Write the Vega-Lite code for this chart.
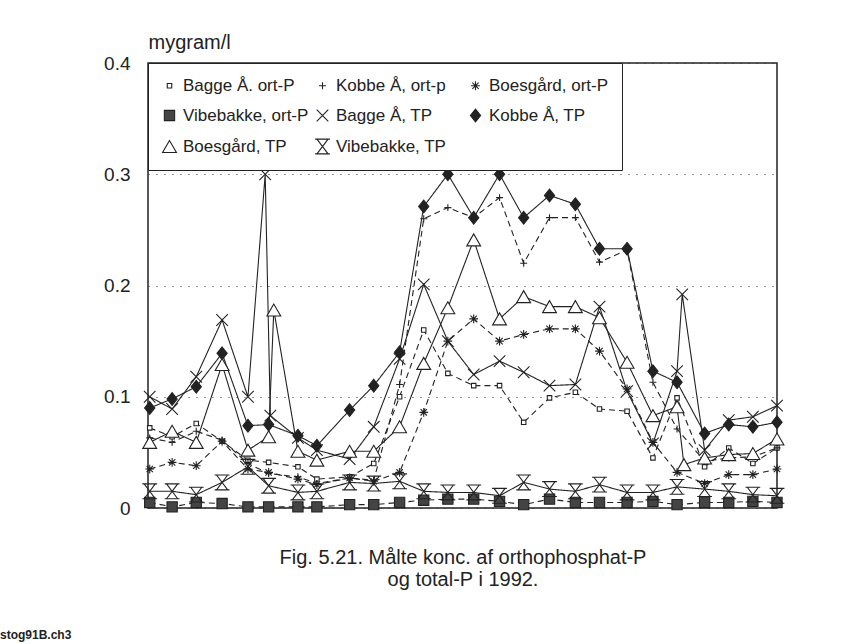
{
"$schema":"https://vega.github.io/schema/vega-lite/v6.json",
"autosize":{"type":"none"},
"width":629,"height":445,
"padding":{"left":148,"top":63,"right":80,"bottom":136},
"background":"white",
"config":{"font":"Liberation Sans","view":{"stroke":"#222","strokeWidth":1.5}},
"title":{"text":"stog91B.ch3","orient":"bottom","anchor":"start","frame":"group","dx":-148,"offset":41,"fontSize":12,"fontWeight":"bold","color":"#222"},
"datasets":{"p":[
{"s":"Bagge Å. ort-P","t":"ort","d":1,"v":0.072},{"s":"Bagge Å. ort-P","t":"ort","d":14,"v":0.064},{"s":"Bagge Å. ort-P","t":"ort","d":28,"v":0.076},{"s":"Bagge Å. ort-P","t":"ort","d":43,"v":0.060},{"s":"Bagge Å. ort-P","t":"ort","d":58,"v":0.043},{"s":"Bagge Å. ort-P","t":"ort","d":70,"v":0.041},{"s":"Bagge Å. ort-P","t":"ort","d":87,"v":0.037},{"s":"Bagge Å. ort-P","t":"ort","d":98,"v":0.026},{"s":"Bagge Å. ort-P","t":"ort","d":117,"v":0.028},{"s":"Bagge Å. ort-P","t":"ort","d":131,"v":0.040},{"s":"Bagge Å. ort-P","t":"ort","d":146,"v":0.100},{"s":"Bagge Å. ort-P","t":"ort","d":160,"v":0.160},{"s":"Bagge Å. ort-P","t":"ort","d":174,"v":0.121},{"s":"Bagge Å. ort-P","t":"ort","d":189,"v":0.110},{"s":"Bagge Å. ort-P","t":"ort","d":204,"v":0.110},{"s":"Bagge Å. ort-P","t":"ort","d":218,"v":0.077},{"s":"Bagge Å. ort-P","t":"ort","d":233,"v":0.099},{"s":"Bagge Å. ort-P","t":"ort","d":248,"v":0.104},{"s":"Bagge Å. ort-P","t":"ort","d":262,"v":0.089},{"s":"Bagge Å. ort-P","t":"ort","d":278,"v":0.087},{"s":"Bagge Å. ort-P","t":"ort","d":293,"v":0.045},{"s":"Bagge Å. ort-P","t":"ort","d":307,"v":0.099},{"s":"Bagge Å. ort-P","t":"ort","d":323,"v":0.037},{"s":"Bagge Å. ort-P","t":"ort","d":337,"v":0.054},{"s":"Bagge Å. ort-P","t":"ort","d":351,"v":0.040},{"s":"Bagge Å. ort-P","t":"ort","d":365,"v":0.054},
{"s":"Kobbe Å, ort-p","t":"ort","d":1,"v":0.063},{"s":"Kobbe Å, ort-p","t":"ort","d":14,"v":0.059},{"s":"Kobbe Å, ort-p","t":"ort","d":28,"v":0.069},{"s":"Kobbe Å, ort-p","t":"ort","d":43,"v":0.061},{"s":"Kobbe Å, ort-p","t":"ort","d":58,"v":0.040},{"s":"Kobbe Å, ort-p","t":"ort","d":70,"v":0.031},{"s":"Kobbe Å, ort-p","t":"ort","d":87,"v":0.028},{"s":"Kobbe Å, ort-p","t":"ort","d":98,"v":0.022},{"s":"Kobbe Å, ort-p","t":"ort","d":117,"v":0.027},{"s":"Kobbe Å, ort-p","t":"ort","d":131,"v":0.025},{"s":"Kobbe Å, ort-p","t":"ort","d":146,"v":0.111},{"s":"Kobbe Å, ort-p","t":"ort","d":160,"v":0.260},{"s":"Kobbe Å, ort-p","t":"ort","d":174,"v":0.270},{"s":"Kobbe Å, ort-p","t":"ort","d":189,"v":0.261},{"s":"Kobbe Å, ort-p","t":"ort","d":204,"v":0.279},{"s":"Kobbe Å, ort-p","t":"ort","d":218,"v":0.220},{"s":"Kobbe Å, ort-p","t":"ort","d":233,"v":0.261},{"s":"Kobbe Å, ort-p","t":"ort","d":248,"v":0.261},{"s":"Kobbe Å, ort-p","t":"ort","d":262,"v":0.221},{"s":"Kobbe Å, ort-p","t":"ort","d":278,"v":0.232},{"s":"Kobbe Å, ort-p","t":"ort","d":293,"v":0.113},{"s":"Kobbe Å, ort-p","t":"ort","d":307,"v":0.071},{"s":"Kobbe Å, ort-p","t":"ort","d":323,"v":0.042},{"s":"Kobbe Å, ort-p","t":"ort","d":337,"v":0.045},{"s":"Kobbe Å, ort-p","t":"ort","d":351,"v":0.046},{"s":"Kobbe Å, ort-p","t":"ort","d":365,"v":0.054},
{"s":"Boesgård, ort-P","t":"ort","d":1,"v":0.035},{"s":"Boesgård, ort-P","t":"ort","d":14,"v":0.041},{"s":"Boesgård, ort-P","t":"ort","d":28,"v":0.038},{"s":"Boesgård, ort-P","t":"ort","d":43,"v":0.060},{"s":"Boesgård, ort-P","t":"ort","d":58,"v":0.035},{"s":"Boesgård, ort-P","t":"ort","d":70,"v":0.032},{"s":"Boesgård, ort-P","t":"ort","d":87,"v":0.026},{"s":"Boesgård, ort-P","t":"ort","d":98,"v":0.021},{"s":"Boesgård, ort-P","t":"ort","d":117,"v":0.027},{"s":"Boesgård, ort-P","t":"ort","d":131,"v":0.024},{"s":"Boesgård, ort-P","t":"ort","d":146,"v":0.032},{"s":"Boesgård, ort-P","t":"ort","d":160,"v":0.086},{"s":"Boesgård, ort-P","t":"ort","d":174,"v":0.150},{"s":"Boesgård, ort-P","t":"ort","d":189,"v":0.170},{"s":"Boesgård, ort-P","t":"ort","d":204,"v":0.150},{"s":"Boesgård, ort-P","t":"ort","d":218,"v":0.156},{"s":"Boesgård, ort-P","t":"ort","d":233,"v":0.161},{"s":"Boesgård, ort-P","t":"ort","d":248,"v":0.161},{"s":"Boesgård, ort-P","t":"ort","d":262,"v":0.141},{"s":"Boesgård, ort-P","t":"ort","d":278,"v":0.107},{"s":"Boesgård, ort-P","t":"ort","d":293,"v":0.059},{"s":"Boesgård, ort-P","t":"ort","d":307,"v":0.032},{"s":"Boesgård, ort-P","t":"ort","d":323,"v":0.022},{"s":"Boesgård, ort-P","t":"ort","d":337,"v":0.030},{"s":"Boesgård, ort-P","t":"ort","d":351,"v":0.030},{"s":"Boesgård, ort-P","t":"ort","d":365,"v":0.035},
{"s":"Vibebakke, ort-P","t":"ort","d":1,"v":0.005},{"s":"Vibebakke, ort-P","t":"ort","d":14,"v":0.001},{"s":"Vibebakke, ort-P","t":"ort","d":28,"v":0.005},{"s":"Vibebakke, ort-P","t":"ort","d":43,"v":0.004},{"s":"Vibebakke, ort-P","t":"ort","d":58,"v":0.001},{"s":"Vibebakke, ort-P","t":"ort","d":70,"v":0.001},{"s":"Vibebakke, ort-P","t":"ort","d":87,"v":0.001},{"s":"Vibebakke, ort-P","t":"ort","d":98,"v":0.001},{"s":"Vibebakke, ort-P","t":"ort","d":117,"v":0.003},{"s":"Vibebakke, ort-P","t":"ort","d":131,"v":0.003},{"s":"Vibebakke, ort-P","t":"ort","d":146,"v":0.005},{"s":"Vibebakke, ort-P","t":"ort","d":160,"v":0.007},{"s":"Vibebakke, ort-P","t":"ort","d":174,"v":0.008},{"s":"Vibebakke, ort-P","t":"ort","d":189,"v":0.008},{"s":"Vibebakke, ort-P","t":"ort","d":204,"v":0.006},{"s":"Vibebakke, ort-P","t":"ort","d":218,"v":0.003},{"s":"Vibebakke, ort-P","t":"ort","d":233,"v":0.008},{"s":"Vibebakke, ort-P","t":"ort","d":248,"v":0.005},{"s":"Vibebakke, ort-P","t":"ort","d":262,"v":0.005},{"s":"Vibebakke, ort-P","t":"ort","d":278,"v":0.005},{"s":"Vibebakke, ort-P","t":"ort","d":293,"v":0.006},{"s":"Vibebakke, ort-P","t":"ort","d":307,"v":0.003},{"s":"Vibebakke, ort-P","t":"ort","d":323,"v":0.005},{"s":"Vibebakke, ort-P","t":"ort","d":337,"v":0.005},{"s":"Vibebakke, ort-P","t":"ort","d":351,"v":0.006},{"s":"Vibebakke, ort-P","t":"ort","d":365,"v":0.005},
{"s":"Bagge Å, TP","t":"TP","d":1,"v":0.100},{"s":"Bagge Å, TP","t":"TP","d":14,"v":0.089},{"s":"Bagge Å, TP","t":"TP","d":28,"v":0.118},{"s":"Bagge Å, TP","t":"TP","d":43,"v":0.169},{"s":"Bagge Å, TP","t":"TP","d":58,"v":0.100},{"s":"Bagge Å, TP","t":"TP","d":68,"v":0.300},{"s":"Bagge Å, TP","t":"TP","d":71,"v":0.083},{"s":"Bagge Å, TP","t":"TP","d":87,"v":0.063},{"s":"Bagge Å, TP","t":"TP","d":98,"v":0.052},{"s":"Bagge Å, TP","t":"TP","d":117,"v":0.044},{"s":"Bagge Å, TP","t":"TP","d":131,"v":0.073},{"s":"Bagge Å, TP","t":"TP","d":146,"v":0.134},{"s":"Bagge Å, TP","t":"TP","d":160,"v":0.201},{"s":"Bagge Å, TP","t":"TP","d":174,"v":0.150},{"s":"Bagge Å, TP","t":"TP","d":189,"v":0.120},{"s":"Bagge Å, TP","t":"TP","d":204,"v":0.132},{"s":"Bagge Å, TP","t":"TP","d":218,"v":0.122},{"s":"Bagge Å, TP","t":"TP","d":233,"v":0.110},{"s":"Bagge Å, TP","t":"TP","d":248,"v":0.111},{"s":"Bagge Å, TP","t":"TP","d":262,"v":0.181},{"s":"Bagge Å, TP","t":"TP","d":278,"v":0.105},{"s":"Bagge Å, TP","t":"TP","d":293,"v":0.058},{"s":"Bagge Å, TP","t":"TP","d":307,"v":0.123},{"s":"Bagge Å, TP","t":"TP","d":310,"v":0.192},{"s":"Bagge Å, TP","t":"TP","d":323,"v":0.052},{"s":"Bagge Å, TP","t":"TP","d":337,"v":0.079},{"s":"Bagge Å, TP","t":"TP","d":351,"v":0.082},{"s":"Bagge Å, TP","t":"TP","d":365,"v":0.092},
{"s":"Kobbe Å, TP","t":"TP","d":1,"v":0.090},{"s":"Kobbe Å, TP","t":"TP","d":14,"v":0.098},{"s":"Kobbe Å, TP","t":"TP","d":28,"v":0.109},{"s":"Kobbe Å, TP","t":"TP","d":43,"v":0.139},{"s":"Kobbe Å, TP","t":"TP","d":58,"v":0.074},{"s":"Kobbe Å, TP","t":"TP","d":70,"v":0.075},{"s":"Kobbe Å, TP","t":"TP","d":87,"v":0.065},{"s":"Kobbe Å, TP","t":"TP","d":98,"v":0.056},{"s":"Kobbe Å, TP","t":"TP","d":117,"v":0.088},{"s":"Kobbe Å, TP","t":"TP","d":131,"v":0.110},{"s":"Kobbe Å, TP","t":"TP","d":146,"v":0.140},{"s":"Kobbe Å, TP","t":"TP","d":160,"v":0.271},{"s":"Kobbe Å, TP","t":"TP","d":174,"v":0.300},{"s":"Kobbe Å, TP","t":"TP","d":189,"v":0.261},{"s":"Kobbe Å, TP","t":"TP","d":204,"v":0.300},{"s":"Kobbe Å, TP","t":"TP","d":218,"v":0.261},{"s":"Kobbe Å, TP","t":"TP","d":233,"v":0.281},{"s":"Kobbe Å, TP","t":"TP","d":248,"v":0.273},{"s":"Kobbe Å, TP","t":"TP","d":262,"v":0.233},{"s":"Kobbe Å, TP","t":"TP","d":278,"v":0.233},{"s":"Kobbe Å, TP","t":"TP","d":293,"v":0.123},{"s":"Kobbe Å, TP","t":"TP","d":307,"v":0.113},{"s":"Kobbe Å, TP","t":"TP","d":323,"v":0.067},{"s":"Kobbe Å, TP","t":"TP","d":337,"v":0.075},{"s":"Kobbe Å, TP","t":"TP","d":351,"v":0.073},{"s":"Kobbe Å, TP","t":"TP","d":365,"v":0.077},
{"s":"Boesgård, TP","t":"TP","d":1,"v":0.059},{"s":"Boesgård, TP","t":"TP","d":14,"v":0.069},{"s":"Boesgård, TP","t":"TP","d":28,"v":0.059},{"s":"Boesgård, TP","t":"TP","d":43,"v":0.129},{"s":"Boesgård, TP","t":"TP","d":58,"v":0.052},{"s":"Boesgård, TP","t":"TP","d":70,"v":0.064},{"s":"Boesgård, TP","t":"TP","d":73,"v":0.178},{"s":"Boesgård, TP","t":"TP","d":87,"v":0.051},{"s":"Boesgård, TP","t":"TP","d":98,"v":0.043},{"s":"Boesgård, TP","t":"TP","d":117,"v":0.051},{"s":"Boesgård, TP","t":"TP","d":131,"v":0.051},{"s":"Boesgård, TP","t":"TP","d":146,"v":0.073},{"s":"Boesgård, TP","t":"TP","d":160,"v":0.130},{"s":"Boesgård, TP","t":"TP","d":174,"v":0.180},{"s":"Boesgård, TP","t":"TP","d":189,"v":0.241},{"s":"Boesgård, TP","t":"TP","d":204,"v":0.170},{"s":"Boesgård, TP","t":"TP","d":218,"v":0.190},{"s":"Boesgård, TP","t":"TP","d":233,"v":0.181},{"s":"Boesgård, TP","t":"TP","d":248,"v":0.181},{"s":"Boesgård, TP","t":"TP","d":262,"v":0.171},{"s":"Boesgård, TP","t":"TP","d":278,"v":0.131},{"s":"Boesgård, TP","t":"TP","d":293,"v":0.083},{"s":"Boesgård, TP","t":"TP","d":307,"v":0.091},{"s":"Boesgård, TP","t":"TP","d":311,"v":0.039},{"s":"Boesgård, TP","t":"TP","d":323,"v":0.045},{"s":"Boesgård, TP","t":"TP","d":337,"v":0.048},{"s":"Boesgård, TP","t":"TP","d":351,"v":0.049},{"s":"Boesgård, TP","t":"TP","d":365,"v":0.062},
{"s":"Vibebakke, TP","t":"TP","d":1,"v":0.015},{"s":"Vibebakke, TP","t":"TP","d":14,"v":0.015},{"s":"Vibebakke, TP","t":"TP","d":28,"v":0.012},{"s":"Vibebakke, TP","t":"TP","d":43,"v":0.023},{"s":"Vibebakke, TP","t":"TP","d":58,"v":0.037},{"s":"Vibebakke, TP","t":"TP","d":70,"v":0.020},{"s":"Vibebakke, TP","t":"TP","d":87,"v":0.014},{"s":"Vibebakke, TP","t":"TP","d":98,"v":0.015},{"s":"Vibebakke, TP","t":"TP","d":117,"v":0.023},{"s":"Vibebakke, TP","t":"TP","d":131,"v":0.022},{"s":"Vibebakke, TP","t":"TP","d":146,"v":0.024},{"s":"Vibebakke, TP","t":"TP","d":160,"v":0.015},{"s":"Vibebakke, TP","t":"TP","d":174,"v":0.014},{"s":"Vibebakke, TP","t":"TP","d":189,"v":0.014},{"s":"Vibebakke, TP","t":"TP","d":204,"v":0.011},{"s":"Vibebakke, TP","t":"TP","d":218,"v":0.023},{"s":"Vibebakke, TP","t":"TP","d":233,"v":0.017},{"s":"Vibebakke, TP","t":"TP","d":248,"v":0.015},{"s":"Vibebakke, TP","t":"TP","d":262,"v":0.021},{"s":"Vibebakke, TP","t":"TP","d":278,"v":0.014},{"s":"Vibebakke, TP","t":"TP","d":293,"v":0.014},{"s":"Vibebakke, TP","t":"TP","d":307,"v":0.019},{"s":"Vibebakke, TP","t":"TP","d":323,"v":0.017},{"s":"Vibebakke, TP","t":"TP","d":337,"v":0.015},{"s":"Vibebakke, TP","t":"TP","d":351,"v":0.012},{"s":"Vibebakke, TP","t":"TP","d":365,"v":0.011}
]},
"data":{"name":"p"},
"encoding":{
"x":{"field":"d","type":"quantitative","scale":{"domain":[0,365],"nice":false,"zero":false},
 "axis":{"labels":false,"ticks":false,"domain":false,"grid":false,
  "title":["Fig. 5.21. Målte konc. af orthophosphat-P","og total-P i 1992."],
  "titleFontSize":20,"titleFontWeight":"normal","titleColor":"#222","titlePadding":39,"titleLineHeight":22}},
"y":{"field":"v","type":"quantitative","scale":{"domain":[0,0.4],"nice":false},
 "axis":{"values":[0,0.1,0.2,0.3,0.4],"format":".1~f","ticks":false,"domain":false,
  "labelFontSize":19,"labelColor":"#222","labelPadding":18,
  "grid":true,"gridDash":[1,7],"gridColor":"#333","gridWidth":1.2,
  "title":"mygram/l","titleAngle":0,"titleAlign":"left","titleBaseline":"alphabetic","titleX":0,"titleY":-15,
  "titleFontSize":20,"titleFontWeight":"normal","titleColor":"#222"}}
},
"layer":[
{"mark":{"type":"line","color":"#222","strokeWidth":1.1},
 "encoding":{"detail":{"field":"s","type":"nominal"},
  "strokeDash":{"field":"t","type":"nominal","legend":null,
  "scale":{"domain":["ort","TP"],"range":[[6,4],[1,0]]}}}},
{"mark":{"type":"point","filled":true,"opacity":1,"stroke":"#222","strokeWidth":1.1},
 "encoding":{
  "shape":{"field":"s","type":"nominal",
   "scale":{"domain":["Bagge Å. ort-P","Kobbe Å, ort-p","Boesgård, ort-P","Vibebakke, ort-P","Bagge Å, TP","Kobbe Å, TP","Boesgård, TP","Vibebakke, TP"],
    "range":["square","M-1,0L1,0M0,-1L0,1","M-1,0L1,0M0,-1L0,1M-0.72,-0.72L0.72,0.72M-0.72,0.72L0.72,-0.72","square","M-1,-1L1,1M-1,1L1,-1","M0,-1L0.8,0L0,1L-0.8,0Z","triangle-up","M-1,-1L1,-1M-0.75,-1L0.75,1M0.75,-1L-0.75,1M-1,1L1,1"]},
   "legend":{"orient":"none","legendX":0,"legendY":0,"direction":"horizontal","columns":3,"title":null,"strokeColor":"#222","fillColor":"white","padding":13,"rowPadding":10,"columnPadding":3,"gridAlign":"all","labelFontSize":17,"labelColor":"#222","labelOffset":5,"labelLimit":300,"symbolStrokeColor":"#222","symbolStrokeWidth":1.1,"symbolOpacity":1}},
  "fill":{"field":"s","type":"nominal",
   "scale":{"domain":["Bagge Å. ort-P","Kobbe Å, ort-p","Boesgård, ort-P","Vibebakke, ort-P","Bagge Å, TP","Kobbe Å, TP","Boesgård, TP","Vibebakke, TP"],
    "range":["white","white","white","#444","white","#222","white","white"]}},
  "size":{"field":"s","type":"nominal",
   "scale":{"domain":["Bagge Å. ort-P","Kobbe Å, ort-p","Boesgård, ort-P","Vibebakke, ort-P","Bagge Å, TP","Kobbe Å, TP","Boesgård, TP","Vibebakke, TP"],
    "range":[20,220,220,30,150,110,160,120]}}
 }}
]
}
